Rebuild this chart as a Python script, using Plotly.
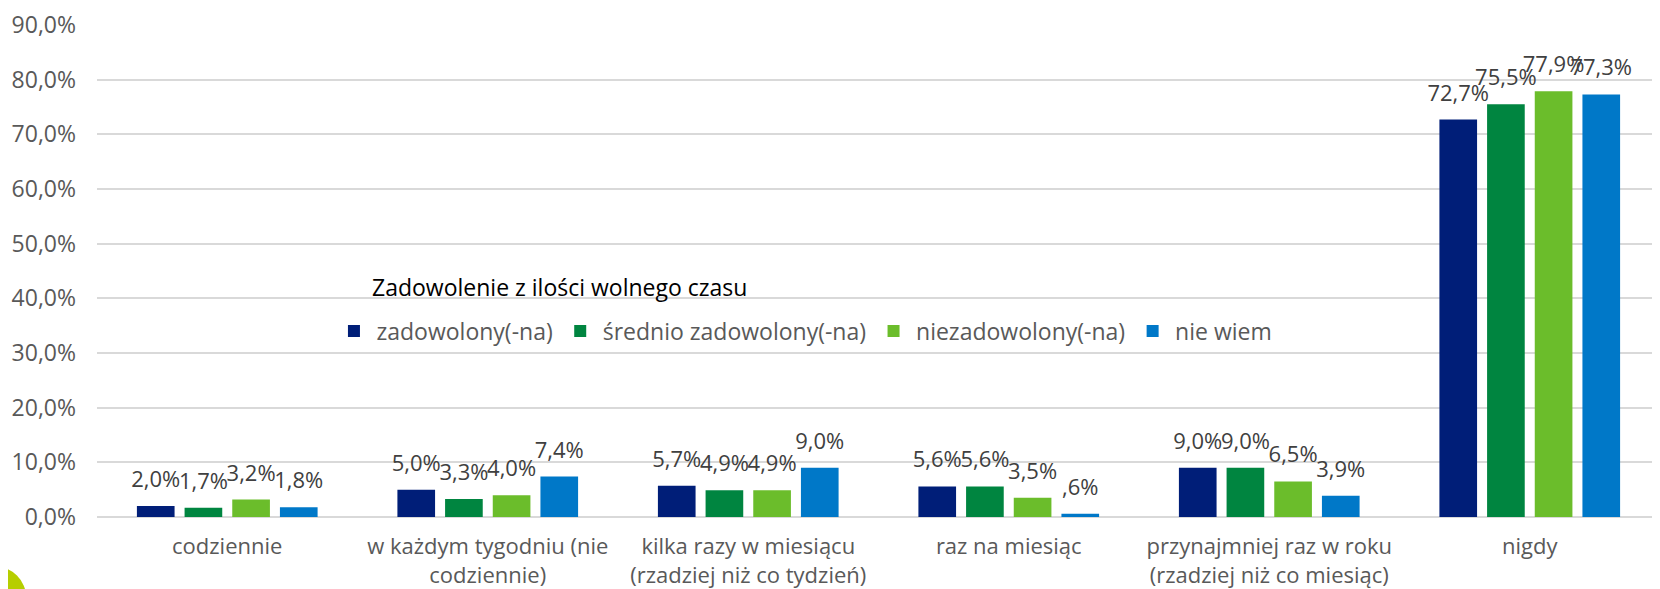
import plotly.graph_objects as go

categories = [
    "codziennie",
    "w każdym tygodniu (nie<br>codziennie)",
    "kilka razy w miesiącu<br>(rzadziej niż co tydzień)",
    "raz na miesiąc",
    "przynajmniej raz w roku<br>(rzadziej niż co miesiąc)",
    "nigdy",
]
series_names = ["zadowolony(-na)", "średnio zadowolony(-na)", "niezadowolony(-na)", "nie wiem"]
zadowolony = [2.0, 5.0, 5.7, 5.6, 9.0, 72.7]
srednio = [1.7, 3.3, 4.9, 5.6, 9.0, 75.5]
niezadowolony = [3.2, 4.0, 4.9, 3.5, 6.5, 77.9]
nie_wiem = [1.8, 7.4, 9.0, 0.6, 3.9, 77.3]
legend_title = "Zadowolenie z ilości wolnego czasu"
y_ticks = [0, 10, 20, 30, 40, 50, 60, 70, 80, 90]

colors = ["#001E78", "#008540", "#6BBD2B", "#0078C8"]
FONT = "Open Sans"


def fmt(v):
    s = f"{v:.1f}".replace(".", ",")
    if s.startswith("0,"):
        s = s[1:]
    return s + "%"


fig = go.Figure()
all_series = [zadowolony, srednio, niezadowolony, nie_wiem]
for i, (name, vals, col) in enumerate(zip(series_names, all_series, colors)):
    fig.add_trace(go.Bar(
        x=categories, y=vals, name=name, offsetgroup=str(i),
        marker=dict(color=col, line=dict(width=0)),
        hoverinfo="skip",
    ))
for i, (name, vals) in enumerate(zip(series_names, all_series)):
    fig.add_trace(go.Scatter(
        x=categories, y=vals, name=name + " etykiety", offsetgroup=str(i),
        mode="markers+text", marker=dict(size=20, opacity=0),
        text=[fmt(v) for v in vals], textposition="top center",
        textfont=dict(family=FONT, size=22, color="#404040"),
        cliponaxis=False, showlegend=False, hoverinfo="skip",
    ))

# page has an 8px body margin; figure sized/margined to compensate
fig.update_layout(
    width=1652, height=581,
    margin=dict(l=89, r=0, t=15, b=69),
    paper_bgcolor="white", plot_bgcolor="white",
    barmode="group", bargap=0.268, bargroupgap=0.21,
    scattermode="group", scattergap=0.268,
    font=dict(family=FONT, size=22, color="#595959"),
    showlegend=True,
    legend=dict(
        orientation="h", x=0.150, y=0.378, xanchor="left", yanchor="middle",
        font=dict(family=FONT, size=23, color="#595959"),
        bgcolor="rgba(0,0,0,0)", itemwidth=35, traceorder="normal",
    ),
    annotations=[dict(
        text=legend_title, xref="paper", yref="paper", x=0.1747, y=0.467,
        xanchor="left", yanchor="middle", showarrow=False,
        font=dict(family=FONT, size=23, color="#000000"),
    )],
    xaxis=dict(showline=False, ticks="", ticklabelstandoff=14,
               tickfont=dict(family=FONT, size=22, color="#595959")),
    yaxis=dict(range=[0, 90.0001], tickvals=y_ticks,
               ticktext=[f"{v:.1f}".replace(".", ",") + "%" for v in y_ticks],
               showgrid=True, gridcolor="#D9D9D9", gridwidth=2,
               zeroline=True, zerolinecolor="#D9D9D9", zerolinewidth=2,
               ticks="", ticklabelstandoff=20, ticklabeloverflow="allow",
               tickfont=dict(family=FONT, size=23, color="#595959")),
    shapes=[dict(type="circle", xref="paper", yref="paper",
                 x0=-0.0851, x1=-0.0454, y0=-0.2254, y1=-0.1006,
                 fillcolor="#B6CE00", line=dict(width=0), layer="above")],
)

fig.write_html("out.html")
